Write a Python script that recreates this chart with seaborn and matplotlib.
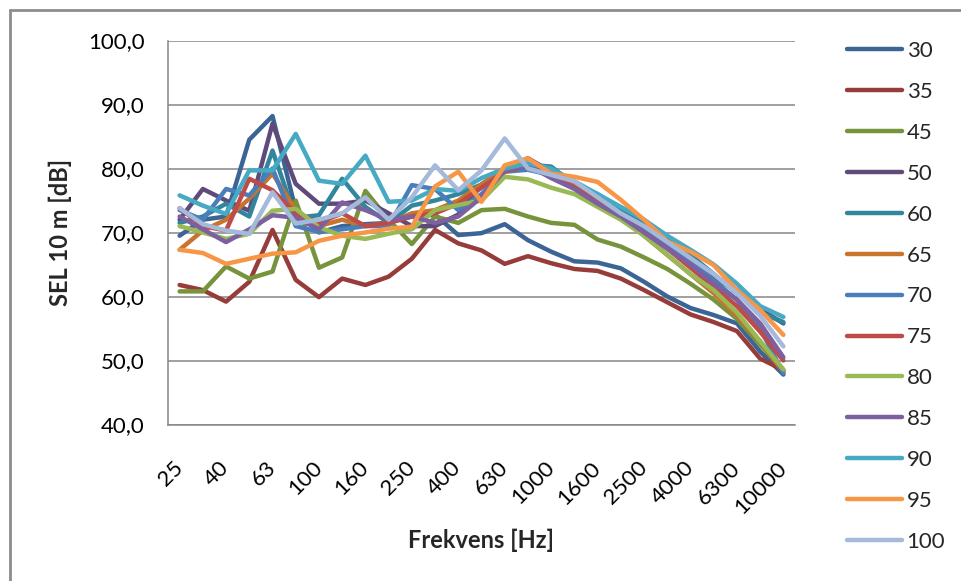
import numpy as np
import pandas as pd
import matplotlib
matplotlib.use("Agg")
import matplotlib.pyplot as plt
from matplotlib.lines import Line2D
import seaborn as sns

# 1/3-octave band centre frequencies (Hz)
freqs = ["25", "31.5", "40", "50", "63", "80", "100", "125", "160", "200",
         "250", "315", "400", "500", "630", "800", "1000", "1250", "1600",
         "2000", "2500", "3150", "4000", "5000", "6300", "8000", "10000"]

# SEL at 10 m per band, one series per case
s30 = [69.5, 72.0, 72.5, 84.5, 88.2, 73.5, 70.0, 71.0, 71.3, 71.5, 72.5, 72.8, 69.6, 69.9,
       71.3, 68.8, 67.0, 65.5, 65.3, 64.4, 62.3, 60.0, 58.2, 57.1, 55.8, 51.4, 47.8]
s35 = [61.8, 61.0, 59.2, 62.3, 70.4, 62.6, 59.9, 62.8, 61.8, 63.1, 65.9, 70.4, 68.3, 67.2,
       65.1, 66.3, 65.2, 64.3, 64.0, 62.8, 61.0, 59.1, 57.2, 56.0, 54.6, 50.3, 48.5]
s45 = [60.8, 60.8, 64.7, 62.8, 63.9, 75.0, 64.5, 66.1, 76.5, 72.0, 68.2, 72.5, 71.5, 73.5,
       73.7, 72.5, 71.5, 71.2, 68.9, 67.8, 66.1, 64.3, 62.0, 59.5, 56.5, 52.5, 48.4]
s50 = [72.0, 76.8, 75.0, 73.4, 87.0, 77.6, 74.5, 74.5, 75.0, 73.0, 71.0, 71.0, 72.8, 77.5,
       80.0, 81.6, 79.5, 77.3, 75.5, 73.5, 71.0, 68.5, 65.5, 62.8, 61.0, 58.0, 55.8]
s60 = [71.5, 72.5, 74.5, 72.5, 82.8, 72.3, 72.7, 78.4, 74.0, 71.5, 74.2, 75.0, 76.0, 77.5,
       80.0, 80.6, 80.3, 77.5, 76.0, 73.5, 71.5, 69.0, 66.5, 63.5, 60.5, 57.5, 56.0]
s65 = [67.3, 70.3, 72.0, 75.3, 79.2, 73.5, 71.0, 72.0, 71.0, 71.5, 73.0, 73.5, 75.0, 77.5,
       80.0, 80.5, 79.5, 77.5, 75.0, 72.5, 69.5, 66.5, 63.5, 60.5, 57.0, 53.0, 48.2]
s70 = [73.5, 72.0, 76.8, 75.8, 80.0, 71.0, 70.1, 70.5, 71.0, 71.0, 77.4, 76.8, 73.5, 76.0,
       79.5, 79.8, 79.0, 77.0, 75.0, 73.0, 70.5, 68.0, 65.5, 62.5, 59.5, 55.0, 48.0]
s75 = [73.8, 71.0, 70.3, 78.4, 76.6, 73.0, 71.5, 73.0, 71.0, 71.5, 72.5, 73.0, 74.5, 77.0,
       79.5, 80.5, 79.2, 77.0, 75.0, 72.5, 70.0, 67.5, 64.5, 61.5, 58.5, 54.5, 50.0]
s80 = [71.0, 70.0, 69.0, 69.8, 73.4, 73.7, 70.8, 69.5, 69.0, 69.8, 70.5, 73.5, 74.3, 75.0,
       78.7, 78.3, 77.0, 76.0, 74.0, 72.0, 69.5, 66.5, 63.5, 61.0, 57.5, 53.0, 48.6]
s85 = [72.5, 70.5, 68.5, 70.5, 72.7, 72.3, 70.5, 74.7, 73.5, 72.0, 72.5, 71.5, 72.5, 75.5,
       79.7, 80.5, 78.5, 76.8, 74.5, 72.5, 70.0, 67.5, 65.0, 62.0, 59.5, 55.8, 50.5]
s90 = [75.8, 74.2, 72.9, 79.7, 79.7, 85.4, 78.1, 77.6, 82.0, 74.8, 75.0, 76.8, 76.5, 78.5,
       80.0, 80.8, 80.0, 78.0, 76.0, 74.0, 72.0, 69.5, 67.3, 65.0, 62.0, 58.5, 56.8]
s95 = [67.3, 66.8, 65.1, 65.9, 66.7, 66.9, 68.7, 69.5, 70.0, 70.6, 70.9, 77.2, 79.5, 74.8,
       80.5, 81.6, 79.2, 78.7, 77.9, 75.1, 72.0, 68.6, 67.0, 64.9, 61.0, 57.9, 54.0]
s100 = [73.8, 71.3, 70.3, 69.8, 76.3, 71.4, 72.0, 73.0, 75.5, 72.0, 75.5, 80.5, 76.6, 79.7,
        84.7, 80.0, 79.0, 78.0, 75.5, 73.0, 71.0, 68.5, 66.0, 63.5, 60.5, 57.0, 52.2]

series_names = ["30", "35", "45", "50", "60", "65", "70", "75", "80", "85", "90", "95", "100"]
series_values = [s30, s35, s45, s50, s60, s65, s70, s75, s80, s85, s90, s95, s100]
colors = ["#3A6595", "#963C3A", "#77933C", "#604A7B", "#31859C", "#C8732E",
          "#4A7EBB", "#BE4B48", "#98B954", "#7D60A0", "#46AAC5", "#F79646", "#A5B9DB"]

y_ticks = [40, 50, 60, 70, 80, 90, 100]

sns.set_style("white")
plt.rcParams["font.family"] = ["Lato", "DejaVu Sans"]

rows = []
for name, vals in zip(series_names, series_values):
    for i, v in enumerate(vals):
        rows.append({"pos": i, "freq": freqs[i], "serie": name, "SEL": v})
df = pd.DataFrame(rows)

fig = plt.figure(figsize=(9.62, 5.81), dpi=100)
ax = fig.add_axes([168 / 962, 1 - 424.5 / 581, (795 - 168) / 962, 384 / 581])

lw = 3.2
sns.lineplot(data=df, x="pos", y="SEL", hue="serie", hue_order=series_names,
             palette=colors, sort=False, linewidth=lw, ax=ax, legend=False,
             solid_joinstyle="round", solid_capstyle="round")

grid_c = "#868686"
ax.set_xlim(-0.5, len(freqs) - 0.5)
ax.set_ylim(40, 100)
ax.set_yticks(y_ticks)
ax.set_yticklabels([f"{t:.1f}".replace(".", ",") for t in y_ticks])
ax.yaxis.grid(True, color=grid_c, linewidth=1.1)
ax.xaxis.grid(False)
ax.set_axisbelow(True)

ax.set_xticks(np.arange(0, len(freqs), 2))
ax.set_xticklabels(freqs[::2], rotation=45, ha="right", va="center",
                   rotation_mode="anchor")
ax.set_xticks(np.arange(-0.5, len(freqs), 1), minor=True)
ax.tick_params(axis="x", which="major", length=0, pad=29, labelsize=16, colors="black")
ax.tick_params(axis="x", which="minor", length=6, width=1.1, color=grid_c)
ax.tick_params(axis="y", which="major", length=5, width=1.1, color=grid_c,
               pad=12, labelsize=16, labelcolor="black")

for side in ["top", "right"]:
    ax.spines[side].set_visible(False)
for side in ["left", "bottom"]:
    ax.spines[side].set_color(grid_c)
    ax.spines[side].set_linewidth(1.1)

ax.set_xlabel("Frekvens [Hz]", fontsize=17, fontweight="bold")
ax.set_ylabel("SEL 10 m [dB]", fontsize=17, fontweight="bold")
ax.xaxis.set_label_coords(0.5, -0.272)
ax.yaxis.set_label_coords(-0.153, 0.5)
ax.xaxis.label.set_va("top")

handles = [Line2D([0], [0], color=c, linewidth=lw, solid_capstyle="round")
           for c in colors]
fig.legend(handles, series_names, loc="center left",
           bbox_to_anchor=(847 / 962, 1 - 296.5 / 581), frameon=False,
           fontsize=16, handlelength=2.48, handletextpad=0.2,
           labelspacing=0.94, borderpad=0, borderaxespad=0)

# chart-area frame
border_c = "#8C8C8C"
fig.add_artist(Line2D([9.5 / 962, 9.5 / 962], [0, 1 - 10 / 581],
                      transform=fig.transFigure, color=border_c, linewidth=2))
fig.add_artist(Line2D([9.5 / 962, 1], [1 - 10 / 581, 1 - 10 / 581],
                      transform=fig.transFigure, color=border_c, linewidth=2))

fig.savefig("out.png", dpi=100)
